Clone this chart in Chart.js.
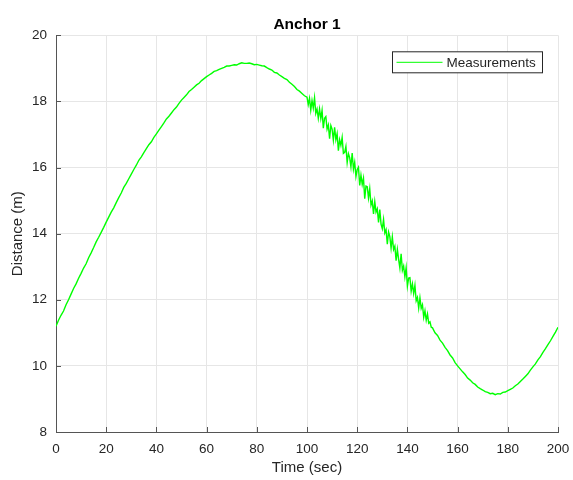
<!DOCTYPE html>
<html>
<head>
<meta charset="utf-8">
<title>Anchor 1</title>
<script src="https://cdn.jsdelivr.net/npm/chart.js@4.4.1/dist/chart.umd.min.js"></script>
<style>
    html, body { margin: 0; padding: 0; background: #fff; }
    #wrap { width: 573px; height: 480px; }
</style>
</head>
<body>
<div id="wrap"><canvas id="anchorChart" width="573" height="480"></canvas></div>
<script>
// Tick labels
const xTicks = [0, 20, 40, 60, 80, 100, 120, 140, 160, 180, 200];
const yTicks = [8, 10, 12, 14, 16, 18, 20];

// Measured distance to anchor 1 (m), read off the plot
// 0 - 99 s, one sample per second
const riseStart = 0, riseStep = 1;
const riseDistances = [
    11.20, 11.38, 11.53, 11.66, 11.85, 12.00, 12.17, 12.34, 12.48, 12.65,
    12.80, 12.96, 13.09, 13.27, 13.42, 13.58, 13.75, 13.89, 14.04, 14.19,
    14.35, 14.50, 14.65, 14.78, 14.94, 15.09, 15.23, 15.40, 15.52, 15.66,
    15.80, 15.94, 16.07, 16.22, 16.32, 16.45, 16.57, 16.69, 16.78, 16.91,
    17.02, 17.13, 17.24, 17.35, 17.47, 17.55, 17.65, 17.75, 17.83, 17.94,
    18.04, 18.12, 18.20, 18.30, 18.36, 18.43, 18.50, 18.55, 18.63, 18.69,
    18.75, 18.80, 18.85, 18.91, 18.93, 18.97, 19.00, 19.03, 19.07, 19.07,
    19.09, 19.11, 19.10, 19.14, 19.17, 19.15, 19.15, 19.16, 19.14, 19.11,
    19.12, 19.10, 19.08, 19.07, 19.02, 18.98, 18.95, 18.88, 18.86, 18.80,
    18.75, 18.70, 18.66, 18.58, 18.52, 18.45, 18.36, 18.31, 18.24, 18.17
];
// 100 - 149.5 s, noisy stretch, two samples per second
const noisyStart = 100, noisyStep = 0.5;
const noisyDistances = [
    18.13, 17.90, 18.09, 17.74, 18.03, 17.80, 18.11, 17.64, 17.77, 17.49,
    17.77, 17.48, 17.73, 17.19, 17.49, 17.54, 17.16, 17.29, 16.87, 17.27,
    17.16, 16.83, 17.22, 16.84, 17.02, 16.51, 16.84, 16.67, 16.91, 16.43,
    16.46, 16.64, 16.15, 16.42, 16.30, 16.02, 16.44, 15.95, 16.16, 15.73,
    15.94, 16.01, 15.46, 15.77, 15.49, 15.68, 15.06, 15.44, 15.42, 15.08,
    15.36, 14.86, 14.99, 14.60, 14.97, 14.65, 14.75, 14.34, 14.73, 14.29,
    14.15, 14.43, 14.02, 14.12, 13.68, 14.05, 13.91, 13.56, 13.90, 13.52,
    13.62, 13.18, 13.52, 13.22, 12.96, 13.39, 12.89, 13.02, 12.69, 12.97,
    12.41, 12.66, 12.67, 12.26, 12.48, 12.19, 12.44, 11.97, 12.07, 11.75,
    12.06, 11.74, 11.85, 11.47, 11.67, 11.38, 11.57, 11.29, 11.33, 11.17
];
// 150 - 200 s, one sample per second
const tailStart = 150, tailStep = 1;
const tailDistances = [
    11.15, 11.00, 10.92, 10.78, 10.69, 10.56, 10.46, 10.33, 10.24, 10.10,
    10.00, 9.91, 9.82, 9.74, 9.63, 9.57, 9.49, 9.44, 9.36, 9.31,
    9.27, 9.22, 9.20, 9.16, 9.17, 9.13, 9.16, 9.15, 9.20, 9.21,
    9.25, 9.29, 9.33, 9.40, 9.45, 9.53, 9.60, 9.68, 9.76, 9.87,
    9.97, 10.06, 10.18, 10.28, 10.41, 10.52, 10.64, 10.76, 10.89, 11.02,
    11.17
];

const axisColor = '#555555';
const textColor = '#262626';
const lineColor = '#00ff00';

function toPoints(start, step, values) {
    return values.map((d, i) => ({ x: start + i * step, y: d }));
}

const measurements = [
    ...toPoints(riseStart, riseStep, riseDistances),
    ...toPoints(noisyStart, noisyStep, noisyDistances),
    ...toPoints(tailStart, tailStep, tailDistances)
];

// MATLAB style tick marks pointing into the axes
const insideTicks = {
    id: 'insideTicks',
    afterDatasetsDraw(chart) {
        const { ctx, chartArea: a, scales: { x, y } } = chart;
        ctx.save();
        ctx.strokeStyle = axisColor;
        ctx.lineWidth = 1;
        ctx.beginPath();
        x.ticks.forEach(t => {
            const px = Math.round(x.getPixelForValue(t.value)) + 0.5;
            ctx.moveTo(px, a.bottom);
            ctx.lineTo(px, a.bottom - 5);
        });
        y.ticks.forEach(t => {
            const py = Math.round(y.getPixelForValue(t.value)) + 0.5;
            ctx.moveTo(a.left, py);
            ctx.lineTo(a.left + 5, py);
        });
        ctx.stroke();
        ctx.restore();
    }
};

// boxed legend in the top right corner of the axes
const boxLegend = {
    id: 'boxLegend',
    afterDraw(chart) {
        const { ctx, chartArea: a } = chart;
        const ds = chart.data.datasets[0];
        const right = a.right - 15.5, top = a.top + 16.5;
        const w = 150, h = 21;
        const left = right - w, mid = top + h / 2;
        ctx.save();
        ctx.fillStyle = '#fff';
        ctx.fillRect(left, top, w, h);
        ctx.strokeStyle = textColor;
        ctx.lineWidth = 1;
        ctx.strokeRect(left, top, w, h);
        ctx.strokeStyle = ds.borderColor;
        ctx.beginPath();
        ctx.moveTo(left + 4, mid);
        ctx.lineTo(left + 50, mid);
        ctx.stroke();
        ctx.fillStyle = textColor;
        ctx.font = '13.5px "Liberation Sans", Arial, sans-serif';
        ctx.textBaseline = 'middle';
        ctx.fillText(ds.label, left + 54, mid + 0.5);
        ctx.restore();
    }
};

Chart.defaults.font.family = '"Liberation Sans", Arial, Helvetica, sans-serif';
Chart.defaults.color = textColor;

new Chart(document.getElementById('anchorChart'), {
    type: 'line',
    data: {
        datasets: [{
            label: 'Measurements',
            data: measurements,
            borderColor: lineColor,
            borderWidth: 1.4,
            pointRadius: 0,
            tension: 0,
            fill: false
        }]
    },
    options: {
        responsive: false,
        animation: false,
        events: [],
        layout: { padding: { left: 0, right: 15, top: 0, bottom: 0 } },
        plugins: {
            legend: { display: false },
            tooltip: { enabled: false },
            title: {
                display: true,
                text: 'Anchor 1',
                fullSize: false,
                color: '#000',
                font: { size: 15.5, weight: 'bold' },
                padding: { top: 15, bottom: 1.7 }
            }
        },
        scales: {
            x: {
                type: 'linear',
                min: 0,
                max: 200,
                afterBuildTicks: s => { s.ticks = xTicks.map(v => ({ value: v })); },
                afterFit: s => {
                    s.height = 48;
                    s.paddingLeft = 0;
                    s.paddingRight = 0;
                },
                grid: { color: '#e6e6e6', drawTicks: false },
                border: { display: true, color: axisColor },
                ticks: { padding: 9, font: { size: 13.5 }, maxRotation: 0 },
                title: {
                    display: true,
                    text: 'Time (sec)',
                    font: { size: 15 },
                    padding: { top: 0, bottom: 3.5 }
                }
            },
            y: {
                type: 'linear',
                min: 8,
                max: 20,
                afterBuildTicks: s => { s.ticks = yTicks.map(v => ({ value: v })); },
                afterFit: s => {
                    s.width = 56;
                    s.paddingTop = 0;
                    s.paddingBottom = 0;
                },
                grid: { color: '#e6e6e6', drawTicks: false },
                border: { display: true, color: axisColor },
                ticks: { padding: 9, font: { size: 13.5 } },
                title: {
                    display: true,
                    text: 'Distance (m)',
                    font: { size: 15 },
                    padding: { top: 9, bottom: 0 }
                }
            }
        }
    },
    plugins: [insideTicks, boxLegend]
});
</script>
</body>
</html>
